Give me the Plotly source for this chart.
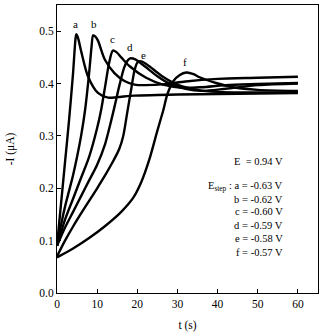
import plotly.graph_objects as go

# Chronoamperometric curves (t in s, -I in uA)
a_t = [0, 1, 2, 3, 4, 4.6, 4.8, 5.2, 6.1, 7.7, 10.2, 12.7, 15, 19.3, 25, 30, 40, 50, 60]
a_y = [0.09, 0.17, 0.25, 0.33, 0.42, 0.485, 0.494, 0.488, 0.459, 0.414, 0.382, 0.373, 0.374, 0.377, 0.378, 0.379, 0.380, 0.381, 0.382]

b_t = [0, 1, 2, 3, 4, 5, 6, 7, 8, 8.6, 9.0, 9.5, 10.2, 11.9, 14.3, 16.8, 19.3, 22, 27, 32, 40, 50, 60]
b_y = [0.09, 0.13, 0.165, 0.195, 0.225, 0.26, 0.30, 0.35, 0.42, 0.47, 0.492, 0.490, 0.482, 0.446, 0.420, 0.405, 0.398, 0.397, 0.399, 0.404, 0.409, 0.411, 0.413]

c_t = [0, 2, 4, 6, 8, 10, 11, 12, 13, 13.9, 14.8, 16, 18.1, 22.2, 26.4, 31.3, 36, 42, 50, 60]
c_y = [0.09, 0.14, 0.18, 0.22, 0.26, 0.315, 0.35, 0.395, 0.44, 0.463, 0.460, 0.450, 0.433, 0.411, 0.398, 0.392, 0.393, 0.397, 0.399, 0.401]

d_t = [0, 2, 4, 6, 8, 10, 12, 13.2, 14.3, 15.5, 16.7, 17.5, 18.2, 19.5, 22, 25, 28, 32, 36, 42, 50, 60]
d_y = [0.09, 0.125, 0.155, 0.185, 0.215, 0.245, 0.285, 0.32, 0.355, 0.395, 0.43, 0.443, 0.448, 0.446, 0.432, 0.414, 0.400, 0.390, 0.386, 0.390, 0.397, 0.400]

e_t = [0, 2, 4, 6, 8, 10, 12, 14, 15.5, 16.5, 17.5, 18.5, 19.3, 20.1, 21.2, 23, 26, 30, 35, 40, 50, 60]
e_y = [0.07, 0.10, 0.127, 0.152, 0.176, 0.20, 0.225, 0.252, 0.275, 0.30, 0.345, 0.39, 0.425, 0.441, 0.442, 0.433, 0.415, 0.398, 0.388, 0.384, 0.383, 0.383]

f_t = [0, 4, 8, 12, 16, 19, 21, 23, 25, 26.5, 27.5, 29, 30.5, 32.2, 34, 35.5, 39.6, 43.8, 50, 60]
f_y = [0.068, 0.085, 0.105, 0.128, 0.155, 0.182, 0.212, 0.255, 0.31, 0.35, 0.38, 0.405, 0.416, 0.421, 0.418, 0.412, 0.401, 0.393, 0.388, 0.386]

curve_names = ["a", "b", "c", "d", "e", "f"]
curve_t = [a_t, b_t, c_t, d_t, e_t, f_t]
curve_y = [a_y, b_y, c_y, d_y, e_y, f_y]
label_t = [4.65, 9.1, 13.9, 18.3, 21.6, 31.9]
label_y = [0.513, 0.514, 0.486, 0.470, 0.454, 0.441]

legend_lines = ["E  = 0.94 V", "E<sub>step</sub> : a = -0.63 V", "b = -0.62 V",
                "c = -0.60 V", "d = -0.59 V", "e = -0.58 V", "f = -0.57 V"]
legend_y = [0.251, 0.203, 0.179, 0.155, 0.129, 0.104, 0.078]

FONT = "Liberation Serif, Times New Roman, DejaVu Serif, serif"

fig = go.Figure()
for name, t, y in zip(curve_names, curve_t, curve_y):
    fig.add_trace(go.Scatter(x=t, y=y, mode="lines", name=name,
                             line=dict(color="black", width=2.4, shape="spline", smoothing=0.8),
                             showlegend=False))

for name, tx, ty in zip(curve_names, label_t, label_y):
    fig.add_annotation(x=tx, y=ty, text=name, showarrow=False,
                       font=dict(family=FONT, size=11, color="black"))

for txt, ly in zip(legend_lines, legend_y):
    fig.add_annotation(x=56.9, y=ly, text=txt, showarrow=False, xanchor="right",
                       font=dict(family=FONT, size=10.5, color="black"))

fig.update_layout(
    width=324, height=336,
    margin=dict(l=57, r=6, t=5, b=43),
    paper_bgcolor="white", plot_bgcolor="white",
    font=dict(family=FONT, size=11.5, color="black"),
)
fig.update_xaxes(range=[0, 65], tickvals=[0, 10, 20, 30, 40, 50, 60],
                 ticks="inside", ticklen=4, tickcolor="black",
                 showline=True, linecolor="black", linewidth=1, mirror=True,
                 showgrid=False, zeroline=False,
                 tickfont=dict(family=FONT, size=11.5, color="black"),
                 title=dict(text="t (s)", standoff=12,
                            font=dict(family=FONT, size=11.5, color="black")))
fig.update_yaxes(range=[0, 0.55], tickvals=[0, 0.1, 0.2, 0.3, 0.4, 0.5], tickformat=".1f",
                 ticks="inside", ticklen=4, tickcolor="black",
                 showline=True, linecolor="black", linewidth=1, mirror=True,
                 showgrid=False, zeroline=False,
                 tickfont=dict(family=FONT, size=11.5, color="black"),
                 title=dict(text="-I (μA)", standoff=22,
                            font=dict(family=FONT, size=11.5, color="black")))

fig.write_html("out.html")
